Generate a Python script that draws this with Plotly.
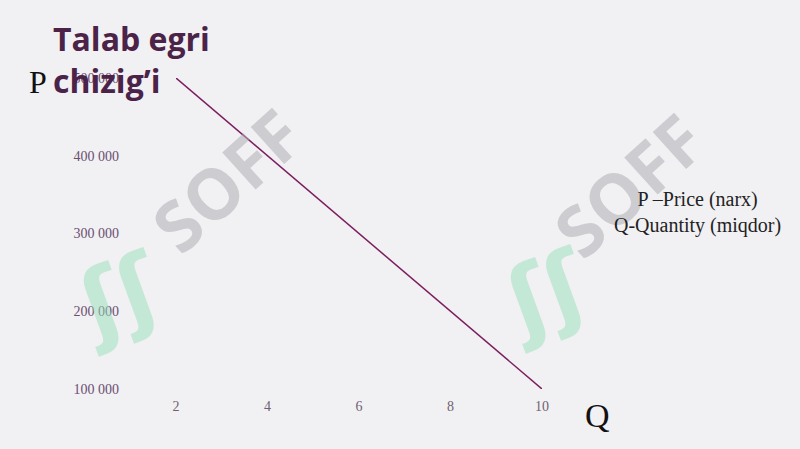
import plotly.graph_objects as go

quantity = [2, 10]
price = [500000, 100000]
x_ticks = [2, 4, 6, 8, 10]
y_ticks = [100000, 200000, 300000, 400000, 500000]
y_labels = ["100 000", "200 000", "300 000", "400 000", "500 000"]

bg = "#f1f0f3"
fig = go.Figure()
fig.add_trace(go.Scatter(x=quantity, y=price, mode="lines",
                         line=dict(color="#7b1e5e", width=1.5), hoverinfo="skip"))

fig.update_layout(
    width=800, height=449,
    paper_bgcolor=bg, plot_bgcolor=bg,
    margin=dict(l=176, r=258, t=78, b=60),
    showlegend=False,
    xaxis=dict(range=[2, 10], tickvals=x_ticks, showgrid=False, zeroline=False,
               showline=False, ticklabelstandoff=7,
               tickfont=dict(family="Liberation Serif", size=14, color="#6e6270")),
    yaxis=dict(range=[100000, 500000], tickvals=y_ticks, ticktext=y_labels,
               showgrid=False, zeroline=False, showline=False, ticklabelstandoff=56,
               tickfont=dict(family="Liberation Serif", size=14, color="#6a4f70")),
)

def pix(px, py):
    return (px - 176) / 366, (389 - py) / 311

ann = []
# watermarks
for (x, y) in [(226, 180), (628, 185)]:
    px_, py_ = pix(x, y)
    ann.append(dict(x=px_, y=py_, xref="paper", yref="paper", text="<b>SOFF</b>",
                    xanchor="center", yanchor="middle",
                    showarrow=False, textangle=-42,
                    font=dict(family="Open Sans", size=70, color="rgba(175,175,178,0.55)")))
for (x, y) in [(118, 295), (545, 292)]:
    px_, py_ = pix(x, y)
    ann.append(dict(x=px_, y=py_, xref="paper", yref="paper", text="<b>ʃʃ</b>",
                    xanchor="center", yanchor="middle",
                    showarrow=False, textangle=-20,
                    font=dict(family="DejaVu Sans", size=90, color="rgba(150,225,185,0.5)")))

tx, ty = pix(51, 60)
ann.append(dict(x=tx, y=ty, xref="paper", yref="paper", xanchor="left", yanchor="middle",
                text="<b>Talab egri<br>chizig’i</b>", align="left", showarrow=False,
                font=dict(family="Open Sans", size=32, color="#4b2348")))
px_, py_ = pix(38, 82)
ann.append(dict(x=px_, y=py_, xref="paper", yref="paper", text="P", showarrow=False,
                xanchor="center", yanchor="middle",
                font=dict(family="Liberation Serif", size=32, color="#111111")))
qx, qy = pix(597, 415)
ann.append(dict(x=qx, y=qy, xref="paper", yref="paper", text="Q", showarrow=False,
                xanchor="center", yanchor="middle",
                font=dict(family="Liberation Serif", size=34, color="#111111")))
lx, ly = pix(697, 212)
ann.append(dict(x=lx, y=ly, xref="paper", yref="paper", text="P –Price (narx)<br>Q-Quantity (miqdor)",
                xanchor="center", yanchor="middle",
                showarrow=False, align="center",
                font=dict(family="Liberation Serif", size=20, color="#222222")))

fig.update_layout(annotations=ann)
fig.write_html("out.html", post_script="document.body.style.margin='0';",
               config={"displayModeBar": False})
